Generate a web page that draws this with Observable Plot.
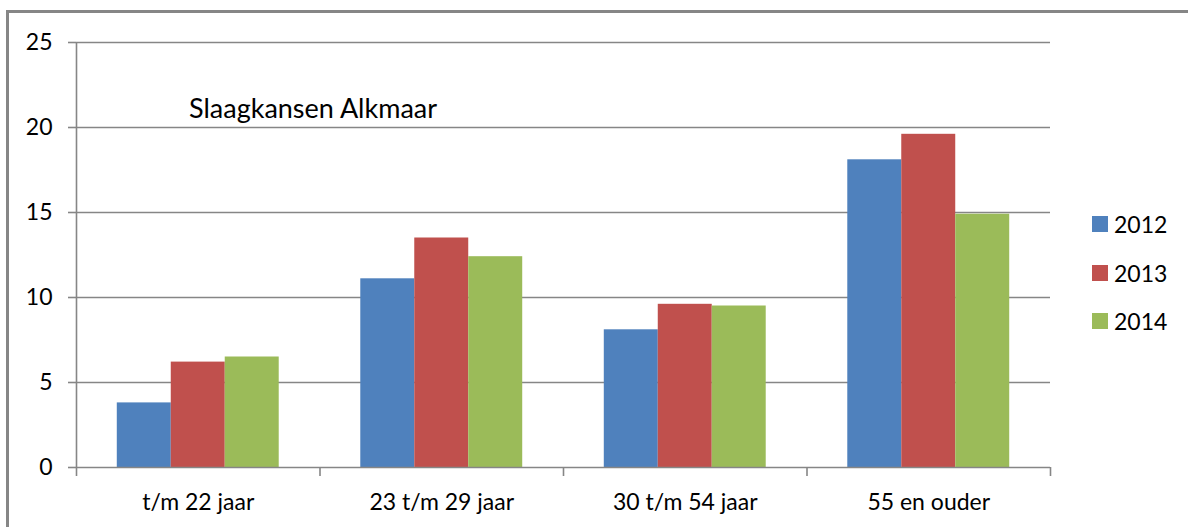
<!DOCTYPE html>
<html>
<head>
<meta charset="utf-8">
<script src="https://cdn.jsdelivr.net/npm/d3@7"></script>
<script src="https://cdn.jsdelivr.net/npm/@observablehq/plot@0.6"></script>
<style>
  html, body { margin: 0; padding: 0; background: #fff; }
  #wrap { position: relative; width: 1188px; height: 527px; overflow: hidden; font-family: Lato, "Open Sans", sans-serif; }
  #frame { position: absolute; left: 6px; top: 10px; width: 1200px; height: 600px; border-left: 3px solid #868686; border-top: 3px solid #868686; box-sizing: border-box; pointer-events: none; }
  #title { position: absolute; left: 189px; top: 91px; font-size: 27px; color: #000; white-space: nowrap; }
  #legend { position: absolute; left: 1092px; top: 200px; }
  .li { display: flex; align-items: center; height: 48.5px; font-size: 23px; color: #000; }
  .sw { width: 16px; height: 16px; margin-right: 6px; }
  #chart svg { position: absolute; left: 0; top: 0; }
</style>
</head>
<body>
<div id="wrap">
  <div id="chart"></div>
  <div id="title"></div>
  <div id="legend"></div>
  <div id="frame"></div>
</div>
<script>
const chartTitle = "Slaagkansen Alkmaar";
const categories = ["t/m 22 jaar", "23 t/m 29 jaar", "30 t/m 54 jaar", "55 en ouder"];
const years = ["2012", "2013", "2014"];
const values2012 = [3.8, 11.1, 8.1, 18.1];
const values2013 = [6.2, 13.5, 9.6, 19.6];
const values2014 = [6.5, 12.4, 9.5, 14.9];
const colors = ["#4F81BD", "#C0504D", "#9BBB59"];
const yTicks = [0, 5, 10, 15, 20, 25];

const series = [values2012, values2013, values2014];
const groupWidth = 0.665;
const barWidth = groupWidth / years.length;
const rows = [];
categories.forEach((c, i) => {
  years.forEach((yr, j) => {
    const x1 = i + (1 - groupWidth) / 2 + j * barWidth;
    rows.push({category: c, year: yr, value: series[j][i], x1, x2: x1 + barWidth});
  });
});

const grid = "#868686";
const plot = Plot.plot({
  width: 1188,
  height: 527,
  marginLeft: 76,
  marginRight: 138,
  marginTop: 42,
  marginBottom: 60,
  style: {fontFamily: "Lato, 'Open Sans', sans-serif", fontSize: "23px", color: "#000", background: "transparent"},
  x: {type: "linear", domain: [0, categories.length], axis: null},
  y: {domain: [0, 25], axis: null},
  color: {domain: years, range: colors},
  marks: [
    Plot.ruleY(yTicks.slice(1), {stroke: grid, strokeWidth: 1.6}),
    Plot.axisY({ticks: yTicks, label: null, tickSize: 8, tickPadding: 16, stroke: grid, fill: "#000", strokeWidth: 1.6, strokeOpacity: 1, fontSize: 23}),
    Plot.rectY(rows, {x1: "x1", x2: "x2", y1: 0, y2: "value", fill: "year"}),
    Plot.ruleX([0], {stroke: grid, strokeWidth: 1.6}),
    Plot.ruleY([0], {stroke: grid, strokeWidth: 1.6}),
    Plot.axisX({ticks: d3.range(categories.length + 1), label: null, tickSize: 9, tickFormat: () => "", stroke: grid, strokeWidth: 1.6, strokeOpacity: 1}),
    Plot.axisX({ticks: categories.map((c, i) => i + 0.5), label: null, tickSize: 0, tickPadding: 26, tickFormat: v => categories[Math.floor(v)], fill: "#000", fontSize: 23})
  ]
});
document.getElementById("chart").appendChild(plot);
document.getElementById("title").textContent = chartTitle;

const legend = document.getElementById("legend");
years.forEach((yr, j) => {
  const li = document.createElement("div");
  li.className = "li";
  const sw = document.createElement("div");
  sw.className = "sw";
  sw.style.background = colors[j];
  const t = document.createElement("span");
  t.textContent = yr;
  li.appendChild(sw);
  li.appendChild(t);
  legend.appendChild(li);
});
</script>
</body>
</html>
